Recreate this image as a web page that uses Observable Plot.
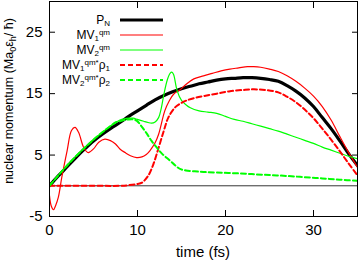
<!DOCTYPE html>
<html><head><meta charset="utf-8">
<script src="https://cdn.jsdelivr.net/npm/d3@7"></script>
<script src="https://cdn.jsdelivr.net/npm/@observablehq/plot@0.6"></script>
<style>body{margin:0;background:#fff} #chart svg{display:block}</style>
</head><body><div id="chart"></div>
<script>
// ---- data ----
const xTicks = [0, 10, 20, 30];
const yTicks = [-5, 5, 15, 25];

const timePN = [0,1,2,3,4,5,6,7,8,9,10,11,12,13,14,15,16,17,18,19,20,21,22,23,24,25,26,27,28,29,30,31,32,33,34,35];
const valuePN = [0,1.6,3.1,4.6,6.0,7.3,8.4,9.4,10.3,11.3,12.2,13.1,14.0,14.7,15.3,15.8,16.2,16.6,16.9,17.2,17.4,17.5,17.6,17.6,17.5,17.3,17.0,16.3,15.4,14.3,12.9,11.1,9.3,7.3,5.2,3.3];

const timeMV1 = [0,0.2,0.45,0.7,1.0,1.4,2.0,2.5,2.9,3.3,3.9,4.4,5.0,5.6,6.3,7.0,7.5,8.0,8.6,9.2,9.9,10.5,11.0,11.4,12.0,12.4,13.1,13.6,14.1,14.9,15.5,16.4,17.5,18.5,19.5,20.5,21.5,22.5,23.2,24,25,26,27,28,29,30,31,32,33,34,35];
const valueMV1 = [-1.6,-3.3,-3.9,-3.2,-1.9,1.4,5.7,9.0,9.5,8.7,6.2,5.4,6.0,7.1,7.6,7.3,6.8,6.0,5.4,4.9,4.6,4.7,5.1,5.7,7.0,8.4,12.2,13.8,14.9,15.7,16.5,17.4,17.9,18.3,18.7,19.0,19.2,19.4,19.4,19.3,19.0,18.6,17.9,17.0,15.9,14.6,12.9,10.7,8.0,5.4,3.0];

const timeMV2 = [0,1,2,3,4,5,6,7,7.5,8,8.5,9,9.5,10,10.7,11.2,11.6,12.0,12.4,12.7,13.0,13.4,13.7,13.9,14.1,14.5,15.0,15.5,16,17,18,19,20,21,22,23,24,25,26,27,28,29,30,31,32,33,34,35];
const valueMV2 = [0,1.7,3.3,4.8,6.2,7.5,8.7,9.8,10.3,10.7,10.9,11.0,11.0,10.8,10.5,10.3,10.2,10.4,11.1,12.6,14.9,17.3,18.3,18.5,18.1,15.5,13.9,13.2,12.7,12.2,12.0,11.8,11.3,10.8,10.5,10.1,9.7,9.3,8.9,8.4,7.9,7.4,6.9,6.3,5.8,5.3,4.8,4.4];

const timeMV1rho = [0,5,8,9,10,10.5,11.2,11.8,12.4,13.0,13.5,14.3,15.0,15.6,16.5,17.5,19,20.5,22,23.2,24.5,26,27,28,29,30,31,32,33,34,35];
const valueMV1rho = [0,0,0,0.1,0.3,0.5,1.6,3.5,6.2,9.0,11.1,12.8,13.5,13.9,14.3,14.6,15.0,15.4,15.6,15.7,15.6,15.2,14.5,13.6,12.4,11.0,9.3,7.5,5.6,3.6,1.7];

const timeMV2rho = [0,1,2,3,4,5,6,7,7.5,8,8.5,9,9.5,9.9,10.5,11.1,11.6,12.2,12.8,13.7,14.3,14.9,15.5,16.5,17.5,19,21,23,25,27,29,31,33,35];
const valueMV2rho = [0,1.7,3.3,4.8,6.2,7.5,8.7,9.8,10.3,10.5,10.7,10.8,10.8,10.6,9.6,8.4,7.3,6.2,5.2,4.1,3.3,2.7,2.5,2.35,2.25,2.15,2.05,1.9,1.75,1.6,1.4,1.2,1.0,0.8];

const toRows = (ts, vs) => ts.map((t, i) => ({t, v: vs[i]}));

// drawn in the reference's plotting order
const series = [
  {rows: toRows(timePN, valuePN), stroke: "#000000", width: 3.2, dash: null},
  {rows: toRows(timeMV1, valueMV1), stroke: "#ff0000", width: 1.2, dash: null},
  {rows: toRows(timeMV2, valueMV2), stroke: "#00ff00", width: 1.2, dash: null},
  {rows: toRows(timeMV1rho, valueMV1rho), stroke: "#ff0000", width: 2, dash: "5,3"},
  {rows: toRows(timeMV2rho, valueMV2rho), stroke: "#00ff00", width: 2, dash: "5,3"}
];

const legendItems = [
  {parts: [["P"], ["N", "sub"]], stroke: "#000000", width: 3.2, dash: null},
  {parts: [["MV"], ["1", "sub"], ["qm", "sup"]], stroke: "#ff0000", width: 1.2, dash: null},
  {parts: [["MV"], ["2", "sub"], ["qm", "sup"]], stroke: "#00ff00", width: 1.2, dash: null},
  {parts: [["MV"], ["1", "sub"], ["qm*", "sup"], ["ρ"], ["1", "sub"]], stroke: "#ff0000", width: 2, dash: "5,3"},
  {parts: [["MV"], ["2", "sub"], ["qm*", "sup"], ["ρ"], ["2", "sub"]], stroke: "#00ff00", width: 2, dash: "5,3"}
];

const FONT = "'Liberation Sans', Arial, Helvetica, sans-serif";

const chart = Plot.plot({
  width: 359, height: 262,
  marginLeft: 49, marginRight: 2, marginTop: 1, marginBottom: 46,
  style: {fontFamily: FONT, fontSize: "15px", background: "#fff", color: "#000", overflow: "visible"},
  x: {domain: [0, 35]},
  y: {domain: [-5, 30]},
  marks: [
    Plot.ruleY([0], {stroke: "#000", strokeWidth: 0.8}),
    ...series.map(s => Plot.line(s.rows, {x: "t", y: "v", stroke: s.stroke, strokeWidth: s.width,
      strokeDasharray: s.dash, curve: "catmull-rom", clip: true})),
    Plot.frame({stroke: "#000", strokeWidth: 1}),
    Plot.axisX({ticks: xTicks, tickSize: -6, tickPadding: 14, tickFormat: d => String(d), label: null}),
    Plot.axisX({anchor: "top", ticks: xTicks, tickSize: -6, tickFormat: () => "", label: null}),
    Plot.axisY({ticks: yTicks, tickSize: -6, tickPadding: 13, tickFormat: d => String(d), label: null}),
    Plot.axisY({anchor: "right", ticks: yTicks, tickSize: -6, tickFormat: () => "", label: null})
  ]
});

document.getElementById("chart").appendChild(chart);

const svg = d3.select(chart);

function rich(sel, parts, size, subShift, supShift) {
  let shift = 0;
  for (const [txt, kind] of parts) {
    const target = kind === "sub" ? subShift : kind === "sup" ? supShift : 0;
    const ts = sel.append("tspan").text(txt).attr("dy", target - shift);
    if (kind) ts.attr("font-size", Math.round(size * 0.7));
    shift = target;
  }
}

// axis titles
svg.append("text")
  .attr("x", 203).attr("y", 256.5)
  .attr("text-anchor", "middle")
  .attr("font-family", FONT).attr("font-size", 15)
  .text("time (fs)");

const yl = svg.append("text")
  .attr("transform", "translate(12.5,101) rotate(-90)")
  .attr("text-anchor", "middle")
  .attr("font-family", FONT).attr("font-size", 12.5);
rich(yl, [["nuclear momentum (Ma"], ["0", "sub"], ["ε"], ["h", "sub"], ["/ ħ)"]], 12.5, 3, -4.5);

// legend
const lg = svg.append("g");
legendItems.forEach((item, i) => {
  const yy = 20 + i * 15;
  const t = lg.append("text")
    .attr("x", 110).attr("y", yy + 3.5)
    .attr("text-anchor", "end")
    .attr("font-family", FONT).attr("font-size", 12);
  rich(t, item.parts, 12, 2.5, -4);
  lg.append("line")
    .attr("x1", 120).attr("x2", 163).attr("y1", yy).attr("y2", yy)
    .attr("stroke", item.stroke).attr("stroke-width", item.width)
    .attr("stroke-dasharray", item.dash);
});
</script>
</body></html>
